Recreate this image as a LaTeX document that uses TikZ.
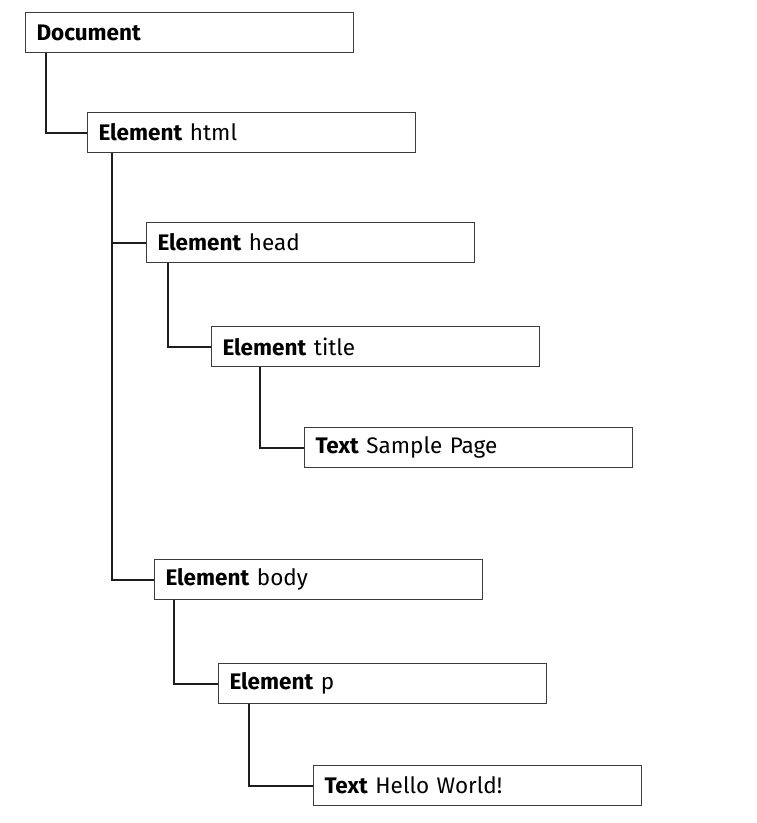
\documentclass[tikz,border=0pt]{standalone}
\usepackage{fontspec}
\setsansfont{Fira Sans}
\usepackage{tikz}
\usetikzlibrary{positioning, calc}
\definecolor{boxColor}{RGB}{60, 60, 60}
\definecolor{lineColor}{RGB}{30, 30, 30}

\begin{document}
\begin{tikzpicture}[x=1pt, y=-1pt,
    domnode/.style={draw=boxColor, line width=1pt, anchor=north west, minimum height=40pt,
        inner xsep=11pt, text width=306pt, align=left, font=\sffamily\fontsize{22.5}{24}\selectfont},
    branch/.style={draw=lineColor, line width=2pt}]
    \useasboundingbox (0,0) rectangle (756,823);

    % Document and html
    \node[domnode] (doc) at (25,12) {\textbf{Document}};
    \node[domnode] (html) at (87,112) {\textbf{Element} html};

    % head branch
    \node[domnode] (head) at (146,222) {\textbf{Element} head};
    \node[domnode] (title) at (211,326) {\textbf{Element} title};
    \node[domnode] (sample) at (304,427) {\textbf{Text} Sample Page};

    % body branch
    \node[domnode] (body) at (154,559) {\textbf{Element} body};
    \node[domnode] (para) at (218,663) {\textbf{Element} p};
    \node[domnode] (hello) at (313,765) {\textbf{Text} Hello World!};

    % Connectors
    \draw[branch] ($(doc.south west)+(21,0)$) |- (html.west);
    \draw[branch] ($(html.south west)+(25,0)$) |- (head.west);
    \draw[branch] ($(html.south west)+(25,0)$) |- (body.west);
    \draw[branch] ($(head.south west)+(22,0)$) |- (title.west);
    \draw[branch] ($(title.south west)+(49,0)$) |- (sample.west);
    \draw[branch] ($(body.south west)+(20,0)$) |- (para.west);
    \draw[branch] ($(para.south west)+(31,0)$) |- (hello.west);

\end{tikzpicture}
\end{document}
